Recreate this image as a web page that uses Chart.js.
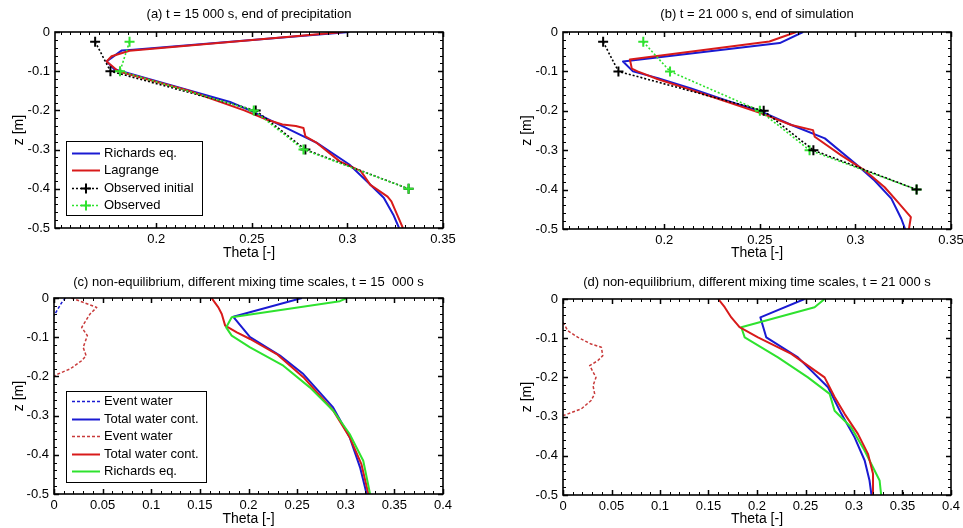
<!DOCTYPE html>
<html><head><meta charset="utf-8">
<script src="https://cdn.jsdelivr.net/npm/chart.js@4.4.1/dist/chart.umd.min.js"></script>
<style>
html,body{margin:0;padding:0;background:#fff;width:963px;height:528px;overflow:hidden}
canvas{position:absolute}
</style></head><body>
<canvas id="ca" width="480" height="260" style="left:0;top:0"></canvas>
<canvas id="cb" width="483" height="260" style="left:480px;top:0"></canvas>
<canvas id="cc" width="480" height="268" style="left:0;top:260px"></canvas>
<canvas id="cd" width="483" height="268" style="left:480px;top:260px"></canvas>
<script>
// ---------- tick labels ----------
const zTicks = [0, -0.1, -0.2, -0.3, -0.4, -0.5];
const thTicksAB = [0.2, 0.25, 0.3, 0.35];
const thTicksCD = [0, 0.05, 0.1, 0.15, 0.2, 0.25, 0.3, 0.35, 0.4];

// ---------- (a) t = 15 000 s ----------
const aRich_z  = [0, -0.045, -0.047, -0.075, -0.095, -0.1785, -0.2, -0.24, -0.283, -0.338, -0.38, -0.423, -0.466, -0.5];
const aRich_th = [0.301, 0.188, 0.182, 0.174, 0.178, 0.2386, 0.249, 0.266, 0.284, 0.301, 0.31, 0.319, 0.324, 0.327];
const aLag_z   = [0, -0.048, -0.062, -0.075, -0.0875, -0.1, -0.15, -0.2, -0.224, -0.236, -0.24, -0.245, -0.266, -0.283, -0.33, -0.355, -0.39, -0.42, -0.432, -0.466, -0.5];
const aLag_th  = [0.298, 0.186, 0.1766, 0.174, 0.177, 0.18, 0.217, 0.246, 0.258, 0.266, 0.273, 0.277, 0.278, 0.284, 0.296, 0.307, 0.312, 0.321, 0.323, 0.326, 0.329];
const obsInit_z  = [-0.025, -0.1, -0.2, -0.3, -0.4];
const obsInit_th = [0.168, 0.176, 0.252, 0.278, 0.332];
const aObs_z  = [-0.025, -0.1, -0.2, -0.3, -0.4];
const aObs_th = [0.186, 0.181, 0.251, 0.277, 0.332];

// ---------- (b) t = 21 000 s ----------
const bRich_z  = [0, -0.028, -0.075, -0.1, -0.117, -0.143, -0.1726, -0.202, -0.236, -0.27, -0.338, -0.377, -0.423, -0.474, -0.5];
const bRich_th = [0.2726, 0.2604, 0.1784, 0.1836, 0.1967, 0.214, 0.2316, 0.2508, 0.2665, 0.284, 0.301, 0.31, 0.3188, 0.324, 0.326];
const bLag_z   = [0, -0.024, -0.07, -0.093, -0.1, -0.12, -0.147, -0.175, -0.2066, -0.236, -0.249, -0.266, -0.313, -0.351, -0.394, -0.432, -0.47, -0.5];
const bLag_th  = [0.269, 0.255, 0.182, 0.183, 0.186, 0.1967, 0.214, 0.2316, 0.2508, 0.2665, 0.2778, 0.2787, 0.2926, 0.3048, 0.3153, 0.3222, 0.329, 0.328];
const bObs_z  = [-0.025, -0.1, -0.2, -0.3, -0.4];
const bObs_th = [0.189, 0.203, 0.25, 0.276, 0.332];

// ---------- (c) non-equilibrium, t = 15 000 s ----------
const cEvB_z  = [0, -0.013, -0.038, -0.045];
const cEvB_th = [0.0117, 0.0076, 0.0017, 0];
const cTotB_z  = [0, -0.048, -0.1, -0.147, -0.194, -0.279, -0.355, -0.432, -0.5];
const cTotB_th = [0.255, 0.1844, 0.2016, 0.2324, 0.2564, 0.287, 0.304, 0.3147, 0.3215];
const cEvR_z  = [0, -0.024, -0.041, -0.075, -0.096, -0.126, -0.147, -0.16, -0.181, -0.196, -0.2];
const cEvR_th = [0.018, 0.0439, 0.037, 0.0285, 0.0343, 0.030, 0.033, 0.0285, 0.0165, 0.002, 0];
const cTotR_z  = [0, -0.024, -0.041, -0.0705, -0.0876, -0.1046, -0.143, -0.202, -0.287, -0.355, -0.423, -0.5];
const cTotR_th = [0.162, 0.169, 0.1725, 0.176, 0.188, 0.2016, 0.229, 0.2564, 0.287, 0.304, 0.316, 0.3233];
const cRich_z  = [0, -0.008, -0.049, -0.075, -0.096, -0.126, -0.1726, -0.228, -0.287, -0.347, -0.415, -0.5];
const cRich_th = [0.301, 0.294, 0.1827, 0.177, 0.1827, 0.2016, 0.2358, 0.263, 0.287, 0.304, 0.318, 0.325];

// ---------- (d) non-equilibrium, t = 21 000 s ----------
const dEvR_z  = [-0.0595, -0.081, -0.098, -0.115, -0.123, -0.1445, -0.157, -0.17, -0.2, -0.221, -0.242, -0.259, -0.28, -0.293, -0.2975];
const dEvR_th = [0, 0.005, 0.0155, 0.029, 0.0395, 0.041, 0.036, 0.0275, 0.034, 0.031, 0.0326, 0.029, 0.019, 0.005, 0];
const dTotB_z  = [0, -0.047, -0.098, -0.149, -0.225, -0.293, -0.353, -0.412, -0.463, -0.5];
const dTotB_th = [0.249, 0.2035, 0.2096, 0.2422, 0.2732, 0.287, 0.3006, 0.311, 0.316, 0.318];
const dTotR_z  = [0, -0.021, -0.047, -0.072, -0.098, -0.14, -0.2, -0.25, -0.293, -0.344, -0.395, -0.446, -0.5];
const dTotR_th = [0.16, 0.1667, 0.1735, 0.182, 0.201, 0.2354, 0.2697, 0.28, 0.2903, 0.304, 0.3144, 0.3196, 0.3196];
const dRich_z  = [0, -0.021, -0.072, -0.098, -0.149, -0.2, -0.242, -0.285, -0.327, -0.387, -0.463, -0.5];
const dRich_th = [0.2697, 0.2594, 0.1838, 0.1873, 0.2216, 0.2525, 0.2749, 0.28, 0.297, 0.311, 0.3264, 0.328];

// ---------- helpers ----------
const FONT = '"Liberation Sans", Arial, sans-serif';
const BLUE = '#1a1ad2', RED = '#d81a1a', GREEN = '#2ee22e', BLACK = '#000', RED2 = '#c83a3a';
const pts = (th, z) => th.map((t, i) => ({x: t, y: z[i]}));
const fmt = v => String(+(+v).toFixed(3));

function line(label, th, z, color, opt = {}) {
  return Object.assign({
    label, data: pts(th, z), showLine: true, borderColor: color, backgroundColor: color,
    borderWidth: 2, pointRadius: 0, pointHoverRadius: 0, tension: 0, borderJoinStyle: 'round'
  }, opt);
}
function observed(label, th, z, color, order) {
  return line(label, th, z, color, {
    borderWidth: 1.6, borderDash: [2, 2], pointStyle: 'cross', pointRadius: 5,
    pointBorderWidth: 2, pointBorderColor: color, order
  });
}

const framePlugin = {
  id: 'frame',
  afterDatasetsDraw(chart, args, o) {
    const {ctx, chartArea: a} = chart;
    const sx = chart.scales.x, sy = chart.scales.y;
    ctx.save();
    ctx.strokeStyle = '#000';
    ctx.setLineDash([]);
    ctx.lineWidth = 1;
    const drawX = (v, len) => {
      const p = Math.round(sx.getPixelForValue(v)) + 0.5;
      ctx.beginPath();
      ctx.moveTo(p, a.bottom); ctx.lineTo(p, a.bottom - len);
      ctx.moveTo(p, a.top); ctx.lineTo(p, a.top + len);
      ctx.stroke();
    };
    const drawY = (v, len) => {
      const p = Math.round(sy.getPixelForValue(v)) + 0.5;
      ctx.beginPath();
      ctx.moveTo(a.left, p); ctx.lineTo(a.left + len, p);
      ctx.moveTo(a.right, p); ctx.lineTo(a.right - len, p);
      ctx.stroke();
    };
    const k0 = Math.ceil(sx.min / o.xMinor - 1e-6), k1 = Math.floor(sx.max / o.xMinor + 1e-6);
    for (let k = k0; k <= k1; k++) drawX(k * o.xMinor, 3);
    const j0 = Math.ceil(sy.min / o.yMinor - 1e-6), j1 = Math.floor(sy.max / o.yMinor + 1e-6);
    for (let j = j0; j <= j1; j++) drawY(j * o.yMinor, 3);
    ctx.lineWidth = 1.5;
    sx.ticks.forEach(t => drawX(t.value, 5));
    sy.ticks.forEach(t => drawY(t.value, 5));
    ctx.lineWidth = 1.6;
    ctx.strokeRect(a.left, a.top, a.right - a.left, a.bottom - a.top);
    ctx.restore();
  },
  afterDraw(chart, args, o) {
    const L = o.legend;
    if (!L) return;
    const ctx = chart.ctx;
    ctx.save();
    ctx.fillStyle = '#fff';
    ctx.fillRect(L.left, L.top, L.width, L.height);
    ctx.strokeStyle = '#000';
    ctx.lineWidth = 1;
    ctx.setLineDash([]);
    ctx.strokeRect(L.left + 0.5, L.top + 0.5, L.width, L.height);
    ctx.font = '13px ' + FONT;
    ctx.textBaseline = 'middle';
    ctx.textAlign = 'left';
    L.items.forEach((di, i) => {
      const ds = chart.data.datasets[di];
      const y = Math.round(L.top + L.row0 + i * L.gap) + 0.5;
      ctx.strokeStyle = ds.borderColor;
      ctx.lineWidth = ds.borderWidth;
      ctx.setLineDash(ds.borderDash || []);
      ctx.beginPath();
      ctx.moveTo(L.left + L.s0, y); ctx.lineTo(L.left + L.s1, y);
      ctx.stroke();
      if (ds.pointRadius > 0) {
        ctx.setLineDash([]);
        ctx.lineWidth = ds.pointBorderWidth;
        const cx = L.left + (L.s0 + L.s1) / 2, r = ds.pointRadius;
        ctx.beginPath();
        ctx.moveTo(cx - r, y); ctx.lineTo(cx + r, y);
        ctx.moveTo(cx, y - r); ctx.lineTo(cx, y + r);
        ctx.stroke();
      }
      ctx.fillStyle = '#000';
      ctx.fillText(ds.label, L.left + L.tx, y);
    });
    ctx.restore();
  }
};

function makeChart(id, datasets, p) {
  return new Chart(document.getElementById(id), {
    type: 'scatter',
    data: {datasets},
    plugins: [framePlugin],
    options: {
      responsive: false, animation: false, events: [],
      layout: {padding: {left: 0, right: p.right, top: 0, bottom: 0}},
      plugins: {
        legend: {display: false}, tooltip: {enabled: false},
        title: {display: true, text: p.title, fullSize: false, color: '#000',
                font: {size: 13, family: FONT, weight: 'normal'}, padding: {top: p.tTop, bottom: p.tBot}},
        frame: {xMinor: p.xMinor, yMinor: 0.02, legend: p.legend}
      },
      scales: {
        x: {
          type: 'linear', position: 'bottom', min: p.xmin, max: p.xmax,
          afterBuildTicks: s => { s.ticks = p.xTicks.map(v => ({value: v})); },
          afterFit: s => { s.height = p.xH; s.paddingLeft = 0; s.paddingRight = 0; },
          grid: {display: false, drawTicks: false}, border: {display: false},
          ticks: {color: '#000', padding: 4, maxRotation: 0, autoSkip: false,
                  font: {size: 13, family: FONT}, callback: v => fmt(v)},
          title: {display: true, text: 'Theta [-]', color: '#000', font: {size: 14, family: FONT},
                  padding: {top: 0, bottom: p.xtPad}}
        },
        y: {
          type: 'linear', position: 'left', min: -0.5, max: 0,
          afterBuildTicks: s => { s.ticks = zTicks.map(v => ({value: v})); },
          afterFit: s => { s.width = p.yW; s.paddingTop = 0; s.paddingBottom = 0; },
          grid: {display: false, drawTicks: false}, border: {display: false},
          ticks: {color: '#000', padding: 5, autoSkip: false,
                  font: {size: 13, family: FONT}, callback: v => fmt(v)},
          title: {display: true, text: 'z [m]', color: '#000', font: {size: 14, family: FONT},
                  padding: {top: p.ytPad, bottom: 0}}
        }
      }
    }
  });
}

// (a)
makeChart('ca', [
  line('Richards eq.', aRich_th, aRich_z, BLUE, {order: 3}),
  line('Lagrange', aLag_th, aLag_z, RED, {order: 2}),
  observed('Observed initial', obsInit_th, obsInit_z, BLACK, 1),
  observed('Observed', aObs_th, aObs_z, GREEN, 0)
], {title: '(a) t = 15 000 s, end of precipitation', right: 37, tTop: 7, tBot: 9.4,
    xmin: 0.147, xmax: 0.35, xTicks: thTicksAB, xMinor: 0.005, xH: 32, yW: 55, xtPad: -1.5, ytPad: 11,
    legend: {left: 66, top: 141, width: 136, height: 74, row0: 12, gap: 17.3, s0: 6, s1: 34, tx: 38, items: [0, 1, 2, 3]}});

// (b)
makeChart('cb', [
  line('Richards eq.', bRich_th, bRich_z, BLUE, {order: 3}),
  line('Lagrange', bLag_th, bLag_z, RED, {order: 2}),
  observed('Observed initial', obsInit_th, obsInit_z, BLACK, 0),
  observed('Observed', bObs_th, bObs_z, GREEN, 1)
], {title: '(b) t = 21 000 s, end of simulation', right: 12, tTop: 7, tBot: 9.4,
    xmin: 0.147, xmax: 0.35, xTicks: thTicksAB, xMinor: 0.005, xH: 31, yW: 83, xtPad: -1.5, ytPad: 39});

// (c)
makeChart('cc', [
  line('Event water', cEvB_th, cEvB_z, BLUE, {borderWidth: 1.5, borderDash: [3, 2], order: 4}),
  line('Total water cont.', cTotB_th, cTotB_z, BLUE, {order: 2}),
  line('Event water', cEvR_th, cEvR_z, RED2, {borderWidth: 1.5, borderDash: [3, 2], order: 3}),
  line('Total water cont.', cTotR_th, cTotR_z, RED, {order: 1}),
  line('Richards eq.', cRich_th, cRich_z, GREEN, {order: 0})
], {title: '(c) non-equilibrium, different mixing time scales, t = 15  000 s', right: 37, tTop: 15, tBot: 7.4,
    xmin: 0, xmax: 0.4, xTicks: thTicksCD, xMinor: 0.01, xH: 34, yW: 54, xtPad: 0, ytPad: 11,
    legend: {left: 66, top: 131, width: 140, height: 91, row0: 10, gap: 17.6, s0: 6, s1: 34, tx: 38, items: [0, 1, 2, 3, 4]}});

// (d)
makeChart('cd', [
  line('Total water cont.', dTotB_th, dTotB_z, BLUE, {order: 2}),
  line('Event water', dEvR_th, dEvR_z, RED2, {borderWidth: 1.5, borderDash: [3, 2], order: 3}),
  line('Total water cont.', dTotR_th, dTotR_z, RED, {order: 0}),
  line('Richards eq.', dRich_th, dRich_z, GREEN, {order: 1})
], {title: '(d) non-equilibrium, different mixing time scales, t = 21 000 s', right: 12, tTop: 15, tBot: 8.4,
    xmin: 0, xmax: 0.4, xTicks: thTicksCD, xMinor: 0.01, xH: 33, yW: 83, xtPad: 0, ytPad: 39});
</script>
</body></html>
